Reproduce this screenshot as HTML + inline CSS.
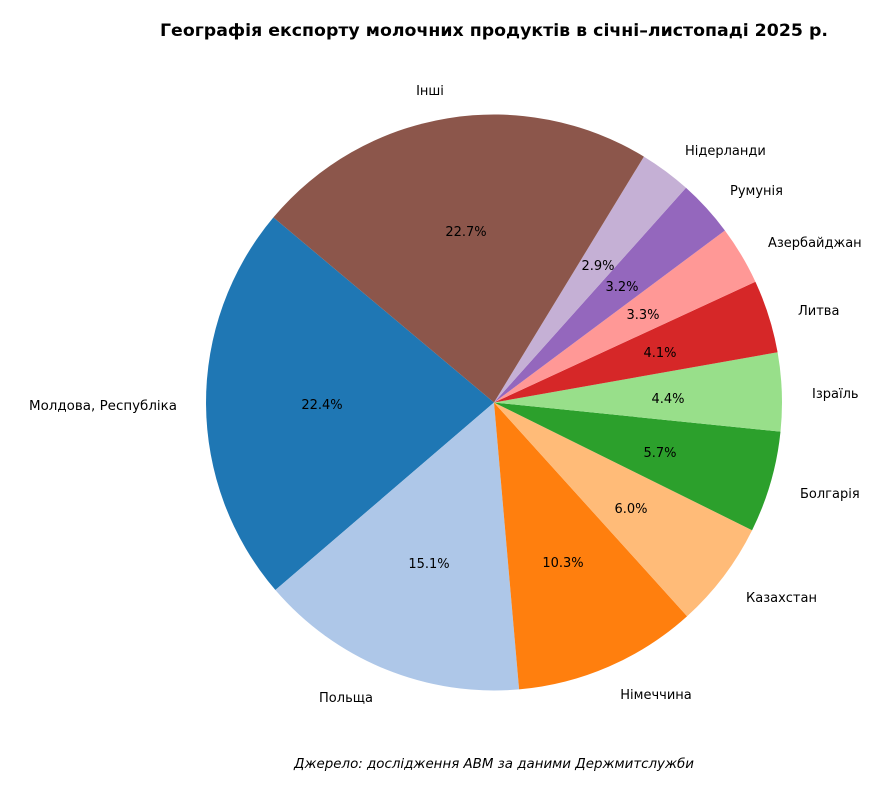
<!DOCTYPE html>
<html><head><meta charset="utf-8"><style>
body{margin:0;background:#fff}
svg text{font-family:"DejaVu Sans","Liberation Sans",sans-serif;font-size:13px;fill:#000}
</style></head><body>
<svg width="893" height="790" viewBox="0 0 893 790" xmlns="http://www.w3.org/2000/svg">
<rect width="893" height="790" fill="#fff"/>
<text x="160" y="36" textLength="668" lengthAdjust="spacingAndGlyphs" style="font-size:17px;font-weight:bold">Географія експорту молочних продуктів в січні–листопаді 2025 р.</text>
<g>
<path d="M494,402.5 L273.4,217.4 A288,288 0 0 0 275.4,590.0 Z" fill="#1f77b4"/>
<path d="M494,402.5 L275.4,590.0 A288,288 0 0 0 519.1,689.4 Z" fill="#aec7e8"/>
<path d="M494,402.5 L519.1,689.4 A288,288 0 0 0 687.1,616.2 Z" fill="#ff7f0e"/>
<path d="M494,402.5 L687.1,616.2 A288,288 0 0 0 752.1,530.2 Z" fill="#ffbb78"/>
<path d="M494,402.5 L752.1,530.2 A288,288 0 0 0 780.5,431.6 Z" fill="#2ca02c"/>
<path d="M494,402.5 L780.5,431.6 A288,288 0 0 0 777.6,352.3 Z" fill="#98df8a"/>
<path d="M494,402.5 L777.6,352.3 A288,288 0 0 0 755.4,281.7 Z" fill="#d62728"/>
<path d="M494,402.5 L755.4,281.7 A288,288 0 0 0 724.9,230.5 Z" fill="#ff9896"/>
<path d="M494,402.5 L724.9,230.5 A288,288 0 0 0 686.0,187.8 Z" fill="#9467bd"/>
<path d="M494,402.5 L686.0,187.8 A288,288 0 0 0 643.9,156.6 Z" fill="#c5b0d5"/>
<path d="M494,402.5 L643.9,156.6 A288,288 0 0 0 273.4,217.4 Z" fill="#8c564b"/>
</g>
<g text-anchor="middle">
<text x="466" y="236">22.7%</text>
<text x="322" y="409">22.4%</text>
<text x="429" y="568">15.1%</text>
<text x="563" y="567">10.3%</text>
<text x="631" y="513">6.0%</text>
<text x="660" y="457">5.7%</text>
<text x="668" y="403">4.4%</text>
<text x="660" y="357">4.1%</text>
<text x="643" y="319">3.3%</text>
<text x="622" y="291">3.2%</text>
<text x="598" y="270">2.9%</text>
<text x="430" y="95">Інші</text>
<text x="656" y="699">Німеччина</text>
<text x="346" y="702">Польща</text>
</g>
<text x="685" y="155">Нідерланди</text>
<text x="730" y="195">Румунія</text>
<text x="768" y="247">Азербайджан</text>
<text x="798" y="315">Литва</text>
<text x="812" y="398">Ізраїль</text>
<text x="800" y="498">Болгарія</text>
<text x="746" y="602">Казахстан</text>
<text x="29" y="410" textLength="148" lengthAdjust="spacingAndGlyphs">Молдова, Республіка</text>
<text x="294" y="768" textLength="400" lengthAdjust="spacingAndGlyphs" style="font-style:italic">Джерело: дослідження АВМ за даними Держмитслужби</text>
</svg>
</body></html>
